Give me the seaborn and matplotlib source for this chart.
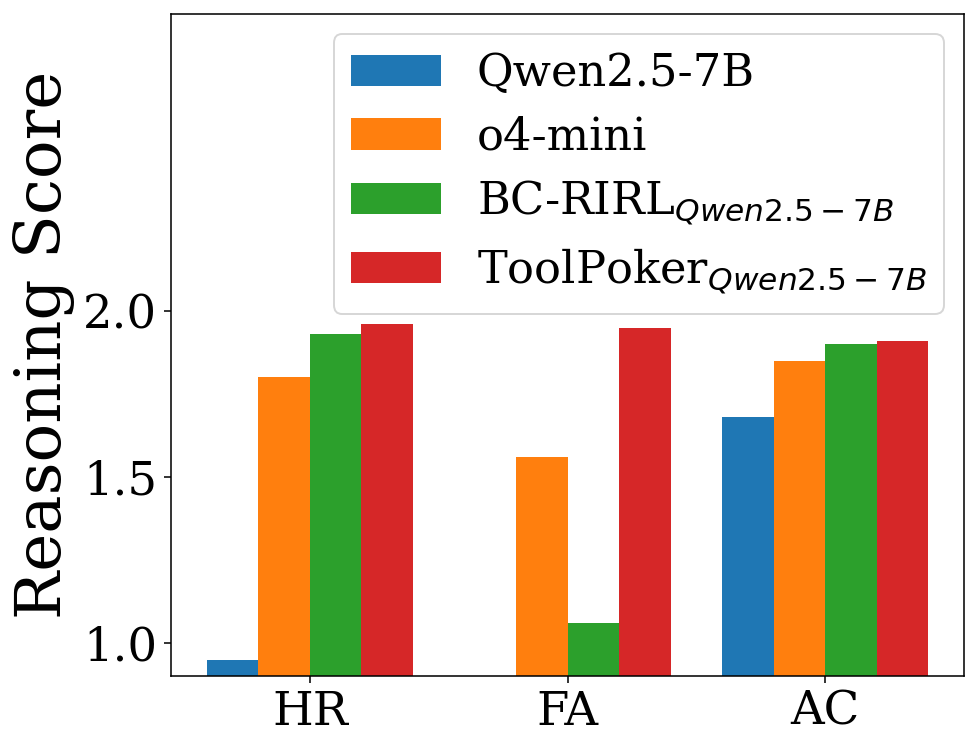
import numpy as np
import pandas as pd
import matplotlib
matplotlib.use('agg')
import matplotlib.pyplot as plt
import seaborn as sns

# data
tasks = ['HR', 'FA', 'AC']
models = ['Qwen2.5-7B', 'o4-mini', r'BC-RIRL$_{Qwen2.5-7B}$', r'ToolPoker$_{Qwen2.5-7B}$']
qwen = [0.947, 0.85, 1.68]
o4mini = [1.80, 1.56, 1.85]
bc_rirl = [1.93, 1.06, 1.90]
toolpoker = [1.96, 1.95, 1.91]

rows = []
for m, vals in zip(models, [qwen, o4mini, bc_rirl, toolpoker]):
    for t, v in zip(tasks, vals):
        rows.append({'task': t, 'model': m, 'score': v})
df = pd.DataFrame(rows)

plt.rcParams['font.family'] = 'DejaVu Serif'
plt.rcParams['mathtext.fontset'] = 'dejavusans'

fig, ax = plt.subplots(figsize=(976/140, 742/140), dpi=140)
sns.barplot(data=df, x='task', y='score', hue='model', order=tasks, hue_order=models,
            palette=['#1f77b4', '#ff7f0e', '#2ca02c', '#d62728'], saturation=1,
            width=0.8, errorbar=None, ax=ax)
ax.set_xlim(-0.54, 2.54)
ax.set_ylim(0.9, 2.895)
ax.set_yticks([1.0, 1.5, 2.0])
ax.set_xlabel('')
ax.set_ylabel('Reasoning Score', fontsize=33)
ax.tick_params(axis='both', labelsize=24)
ax.legend(loc='upper right', fontsize=23, title=None, labelspacing=0.45, borderaxespad=0.45)
plt.subplots_adjust(left=0.175, right=0.988, top=0.981, bottom=0.089)
plt.savefig('out.png', dpi=140)
plt.close()
